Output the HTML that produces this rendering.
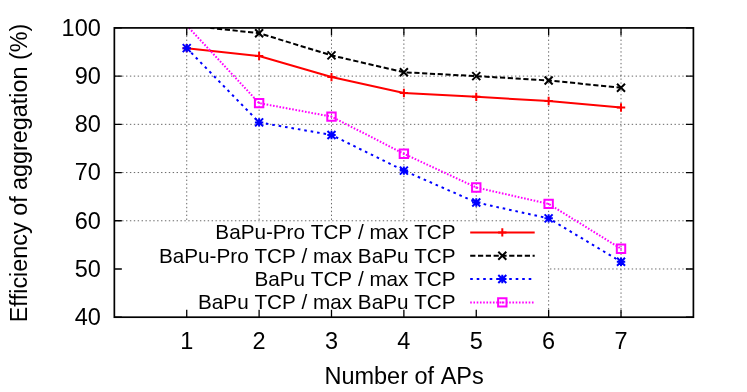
<!DOCTYPE html><html><head><meta charset="utf-8"><style>html,body{margin:0;padding:0;background:#fff}svg{display:block;will-change:transform}text{font-family:"Liberation Sans",sans-serif;fill:#000;font-kerning:none}</style></head><body>
<svg width="747" height="392" viewBox="0 0 747 392">
<rect width="747" height="392" fill="#fff"/>
<defs><clipPath id="c"><rect x="114.35" y="27.90" width="579.05" height="289.30"/></clipPath></defs>
<path d="M114.35 268.98H693.40M114.35 220.77H693.40M114.35 172.55H693.40M114.35 124.33H693.40M114.35 76.12H693.40M186.73 27.90V317.20M259.11 27.90V317.20M331.49 27.90V317.20M403.88 27.90V317.20M476.26 27.90V317.20M548.64 27.90V317.20M621.02 27.90V317.20" stroke="#000" stroke-width="0.6" stroke-dasharray="1.4 2.49" fill="none"/>
<rect x="114.35" y="222.27" width="433.15" height="94.93" fill="#fff"/>
<path d="M114.35 317.20h7.50M693.40 317.20h-7.50M114.35 268.98h7.50M693.40 268.98h-7.50M114.35 220.77h7.50M693.40 220.77h-7.50M114.35 172.55h7.50M693.40 172.55h-7.50M114.35 124.33h7.50M693.40 124.33h-7.50M114.35 76.12h7.50M693.40 76.12h-7.50M114.35 27.90h7.50M693.40 27.90h-7.50M186.73 27.90v7.50M186.73 317.20v-7.50M259.11 27.90v7.50M259.11 317.20v-7.50M331.49 27.90v7.50M331.49 317.20v-7.50M403.88 27.90v7.50M403.88 317.20v-7.50M476.26 27.90v7.50M476.26 317.20v-7.50M548.64 27.90v7.50M548.64 317.20v-7.50M621.02 27.90v7.50M621.02 317.20v-7.50" stroke="#000" stroke-width="1.3" fill="none"/>
<text x="100.80" y="325.10" font-size="23.5" text-anchor="end">40</text>
<text x="100.80" y="276.88" font-size="23.5" text-anchor="end">50</text>
<text x="100.80" y="228.67" font-size="23.5" text-anchor="end">60</text>
<text x="100.80" y="180.45" font-size="23.5" text-anchor="end">70</text>
<text x="100.80" y="132.23" font-size="23.5" text-anchor="end">80</text>
<text x="100.80" y="84.02" font-size="23.5" text-anchor="end">90</text>
<text x="100.80" y="35.80" font-size="23.5" text-anchor="end">100</text>
<text x="186.73" y="348.80" font-size="23.5" text-anchor="middle">1</text>
<text x="259.11" y="348.80" font-size="23.5" text-anchor="middle">2</text>
<text x="331.49" y="348.80" font-size="23.5" text-anchor="middle">3</text>
<text x="403.88" y="348.80" font-size="23.5" text-anchor="middle">4</text>
<text x="476.26" y="348.80" font-size="23.5" text-anchor="middle">5</text>
<text x="548.64" y="348.80" font-size="23.5" text-anchor="middle">6</text>
<text x="621.02" y="348.80" font-size="23.5" text-anchor="middle">7</text>
<text x="404.1" y="384.0" font-size="23.5" text-anchor="middle">Number of APs</text>
<text transform="translate(27.0,173.0) rotate(-90)" font-size="23.36" text-anchor="middle">Efficiency of aggregation (%)</text>
<g clip-path="url(#c)" fill="none">
<polyline points="186.73,48.15 259.11,56.06 331.49,77.08 403.88,92.99 476.26,96.85 548.64,100.95 621.02,107.46" stroke="#ff0000" stroke-width="2.00"/>
<polyline points="210.27,27.90 259.11,33.20 331.49,55.38 403.88,72.26 476.26,76.12 548.64,80.46 621.02,87.69" stroke="#000000" stroke-width="2.00" stroke-dasharray="5.2 2.6" stroke-dashoffset="1"/>
<polyline points="186.73,48.15 259.11,122.40 331.49,134.94 403.88,170.62 476.26,202.44 548.64,218.36 621.02,261.75" stroke="#0000ff" stroke-width="2.00" stroke-dasharray="2.6 3.9"/>
<polyline points="188.98,27.90 259.11,103.12 331.49,116.62 403.88,153.75 476.26,187.50 548.64,203.89 621.02,248.73" stroke="#ff00ff" stroke-width="2.00" stroke-dasharray="1.6 1.65"/>
<path d="M182.53 48.15h8.40M186.73 43.95v8.40M254.91 56.06h8.40M259.11 51.86v8.40M327.29 77.08h8.40M331.49 72.88v8.40M399.68 92.99h8.40M403.88 88.79v8.40M472.06 96.85h8.40M476.26 92.65v8.40M544.44 100.95h8.40M548.64 96.75v8.40M616.82 107.46h8.40M621.02 103.26v8.40" stroke="#ff0000" stroke-width="2"/>
<path d="M255.11 29.20l8.00 8.00M255.11 37.20l8.00 -8.00M327.49 51.38l8.00 8.00M327.49 59.38l8.00 -8.00M399.88 68.26l8.00 8.00M399.88 76.26l8.00 -8.00M472.26 72.12l8.00 8.00M472.26 80.12l8.00 -8.00M544.64 76.46l8.00 8.00M544.64 84.46l8.00 -8.00M617.02 83.69l8.00 8.00M617.02 91.69l8.00 -8.00" stroke="#000000" stroke-width="2"/>
<path d="M182.53 48.15h8.40M186.73 43.95v8.40M182.73 44.15l8.00 8.00M182.73 52.15l8.00 -8.00M254.91 122.40h8.40M259.11 118.20v8.40M255.11 118.40l8.00 8.00M255.11 126.40l8.00 -8.00M327.29 134.94h8.40M331.49 130.74v8.40M327.49 130.94l8.00 8.00M327.49 138.94l8.00 -8.00M399.68 170.62h8.40M403.88 166.42v8.40M399.88 166.62l8.00 8.00M399.88 174.62l8.00 -8.00M472.06 202.44h8.40M476.26 198.24v8.40M472.26 198.44l8.00 8.00M472.26 206.44l8.00 -8.00M544.44 218.36h8.40M548.64 214.16v8.40M544.64 214.36l8.00 8.00M544.64 222.36l8.00 -8.00M616.82 261.75h8.40M621.02 257.55v8.40M617.02 257.75l8.00 8.00M617.02 265.75l8.00 -8.00" stroke="#0000ff" stroke-width="2"/>
<path d="M254.91 98.92h8.40v8.40h-8.40zM258.41 103.12h1.4M327.29 112.42h8.40v8.40h-8.40zM330.79 116.62h1.4M399.68 149.55h8.40v8.40h-8.40zM403.18 153.75h1.4M472.06 183.30h8.40v8.40h-8.40zM475.56 187.50h1.4M544.44 199.69h8.40v8.40h-8.40zM547.94 203.89h1.4M616.82 244.53h8.40v8.40h-8.40zM620.32 248.73h1.4" stroke="#ff00ff" stroke-width="2"/>
</g>
<text x="455.6" y="239.40" font-size="20.7" text-anchor="end">BaPu-Pro TCP / max TCP</text>
<path d="M470.2 232.40H534.7" stroke="#ff0000" stroke-width="2.00" fill="none"/>
<path d="M498.10 232.40h8.40M502.30 228.20v8.40" stroke="#ff0000" stroke-width="2" fill="none"/>
<text x="455.6" y="262.70" font-size="20.7" text-anchor="end">BaPu-Pro TCP / max BaPu TCP</text>
<path d="M470.2 255.70H534.7" stroke="#000000" stroke-width="2.00" fill="none" stroke-dasharray="5.2 2.6"/>
<path d="M498.30 251.70l8.00 8.00M498.30 259.70l8.00 -8.00" stroke="#000000" stroke-width="2" fill="none"/>
<text x="455.6" y="286.05" font-size="20.7" text-anchor="end">BaPu TCP / max TCP</text>
<path d="M470.2 279.05H534.7" stroke="#0000ff" stroke-width="2.00" fill="none" stroke-dasharray="2.6 3.9"/>
<path d="M498.10 279.05h8.40M502.30 274.85v8.40M498.30 275.05l8.00 8.00M498.30 283.05l8.00 -8.00" stroke="#0000ff" stroke-width="2" fill="none"/>
<text x="455.6" y="309.40" font-size="20.7" text-anchor="end">BaPu TCP / max BaPu TCP</text>
<path d="M470.2 302.40H534.7" stroke="#ff00ff" stroke-width="2.00" fill="none" stroke-dasharray="1.6 1.65"/>
<path d="M498.10 298.20h8.40v8.40h-8.40zM501.60 302.40h1.4" stroke="#ff00ff" stroke-width="2" fill="none"/>
<rect x="114.35" y="27.90" width="579.05" height="289.30" fill="none" stroke="#000" stroke-width="1.7"/>
</svg></body></html>
